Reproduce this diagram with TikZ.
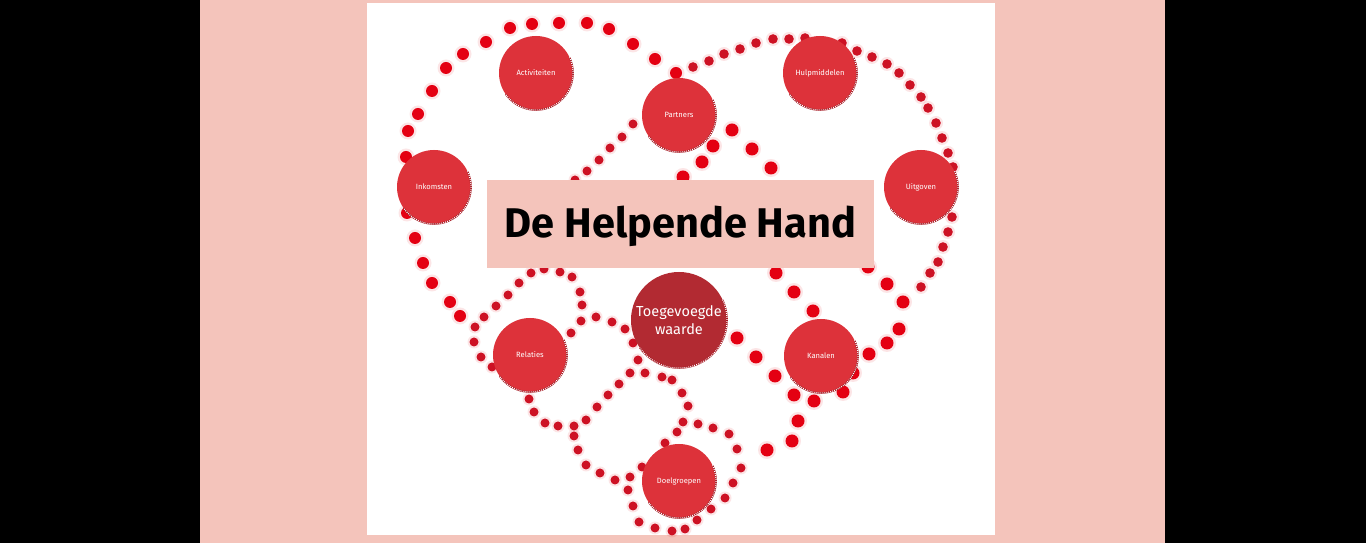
\documentclass[tikz,border=0pt]{standalone}
\usepackage{fontspec}
\setmainfont{Fira Sans}
\definecolor{pinkbg}{RGB}{244,196,187}
\definecolor{dotred}{RGB}{228,0,18}
\definecolor{dotdark}{RGB}{205,18,36}
\definecolor{bubblec}{RGB}{221,50,58}
\definecolor{bubbledark}{RGB}{178,42,50}
\definecolor{rimc}{RGB}{165,20,30}
\tikzset{
  bubble/.style={circle, fill=bubblec, minimum size=74pt, inner sep=0pt, text=white, font=\fontsize{7.6}{9}\selectfont},
  bigbubble/.style={circle, fill=bubbledark, minimum size=96pt, inner sep=0pt, text=white, align=center, font=\fontsize{14.5}{17.5}\selectfont},
  halo/.style={fill=dotred, opacity=0.10},
  titlebox/.style={rectangle, fill=pinkbg, minimum width=387pt, minimum height=88pt, inner sep=0pt}
}
\newcommand{\rim}[2]{%
  \draw[rimc, line width=1.6pt] (#1.center) ++(25:#2) arc[start angle=25, end angle=-145, radius=#2];
  \draw[white, line width=1.1pt, dash pattern=on 0.9pt off 1.1pt] (#1.center) ++(25:#2) arc[start angle=25, end angle=-145, radius=#2];
}
\begin{document}
\begin{tikzpicture}[x=1pt,y=1pt]
\def\H{543}
\useasboundingbox (0,0) rectangle (1366,543);
\fill[black] (0,0) rectangle (1366,543);
\fill[pinkbg] (200,0) rectangle (1165,543);
\fill[white] (367,\H-535) rectangle (995,\H-3);
% big bright dots
\foreach \x/\y in {486/42,510/28,532/24,559/23,587/23,609/29,633/44,655/59,676/73,463/54,446/68,432/91,418/114,408/131,406/157,407/213,415/238,423/263,432/283,450/302,460/316}{
  \fill[halo] (\x,\H-\y) circle (8.5);
  \fill[dotred] (\x,\H-\y) circle (6);
}
\foreach \x/\y in {732/130,752/149,771/168,713/146,702/162,683/177,776/273,794/292,813/311,737/338,756/357,775/376,794/395,814/401,843/392,853/373,869/354,887/343,899/329,903/302,887/284,868/267,798/421,792/441,767/450}{
  \fill[halo] (\x,\H-\y) circle (9);
  \fill[dotred] (\x,\H-\y) circle (6.5);
}
% top right lobe, medium dots
\foreach \x/\y in {693/67,709/61,724/54,740/49,756/43,773/39,789/39,805/38,842/43,857/51,872/57,887/64,899/73,910/85,921/97,928/108,936/123,942/138,948/153,953/167,952/217,948/232,943/247,938/262,930/273,921/287}{
  \fill[halo] (\x,\H-\y) circle (7);
  \fill[dotdark] (\x,\H-\y) circle (4.8);
}
% small dots
\foreach \x/\y in {633/124,622/137,610/148,599/160,587/171,575/180,
  475/327,484/317,496/306,508/295,519/283,531/273,544/269,560/272,572/277,580/292,582/305,581/321,571/333,
  474/342,481/357,492/367,
  529/399,534/412,545/423,558/426,574/426,574/436,578/450,586/465,600/473,615/480,630/477,642/467,
  586/420,597/407,608/395,619/384,630/373,
  596/317,612/322,625/329,633/343,638/360,
  645/373,662/377,672/380,682/393,688/406,683/422,677/432,665/443,
  698/424,713/428,729/434,737/449,741/468,733/483,725/498,711/509,697/520,685/529,672/531,655/528,639/522,633/506,628/490}{
  \fill[halo] (\x,\H-\y) circle (6.5);
  \fill[dotdark] (\x,\H-\y) circle (4.5);
}
% bubbles
\node[bubble] (act) at (536,\H-73) {Activiteiten};
\node[bubble] (par) at (679,\H-115) {Partners};
\node[bubble] (hulp) at (820,\H-73) {Hulpmiddelen};
\node[bubble] (ink) at (434,\H-187) {Inkomsten};
\node[bubble] (uit) at (921,\H-187) {Uitgoven};
\node[bubble] (rel) at (530,\H-355) {Relaties};
\node[bubble] (kan) at (821,\H-356) {Kanalen};
\node[bubble] (doel) at (679,\H-481) {Doelgroepen};
\node[bigbubble] (toe) at (679,\H-320) {Toegevoegde\\waarde};
\rim{act}{37pt}\rim{par}{37pt}\rim{hulp}{37pt}\rim{ink}{37pt}\rim{uit}{37pt}
\rim{rel}{37pt}\rim{kan}{37pt}\rim{doel}{37pt}\rim{toe}{48pt}
% title
\node[titlebox] (title) at (680.5,\H-224) {};
\node[font=\fontsize{41.5}{46}\selectfont\bfseries, inner sep=0pt] (titletext) at (680.5,\H-226) {De Helpende Hand};
\end{tikzpicture}
\end{document}
